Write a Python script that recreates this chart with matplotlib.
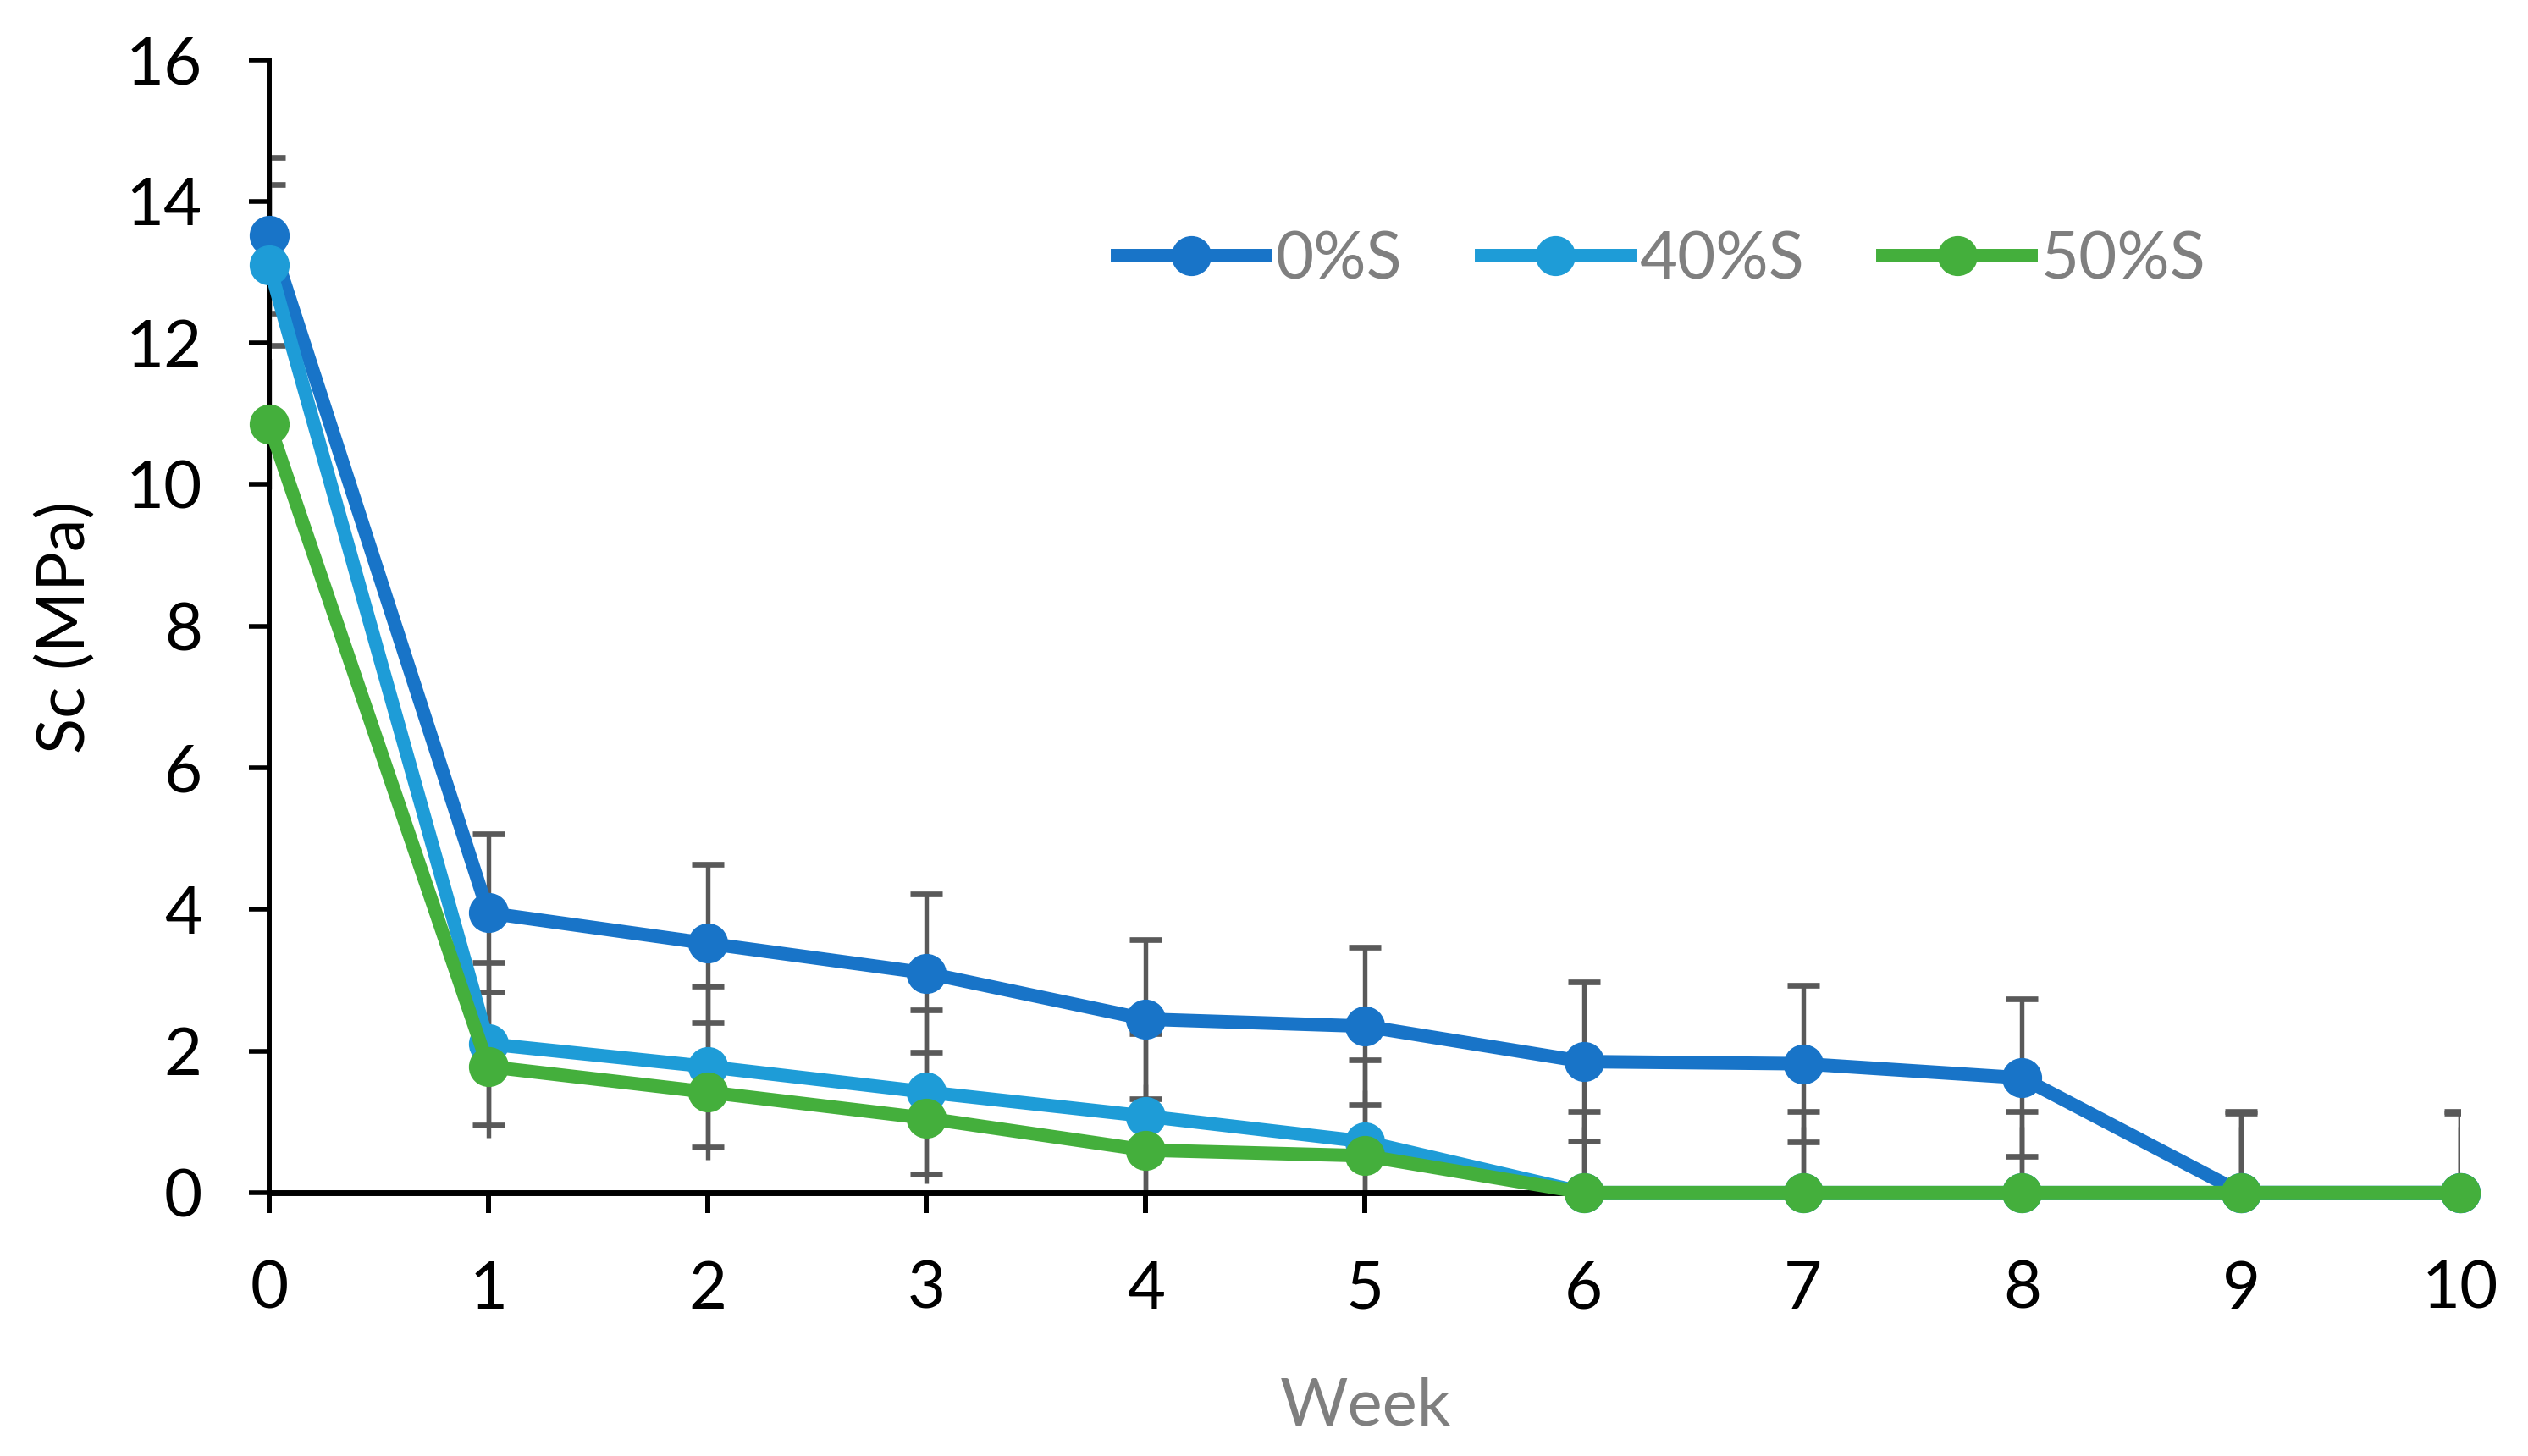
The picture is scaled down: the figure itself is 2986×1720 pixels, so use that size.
import matplotlib
matplotlib.use("Agg")
import matplotlib.pyplot as plt
import numpy as np

plt.rcParams["font.family"] = ["Lato", "DejaVu Sans"]

weeks = [0, 1, 2, 3, 4, 5, 6, 7, 8, 9, 10]
series_names = ["0%S", "40%S", "50%S"]

s0 = [13.52, 3.95, 3.52, 3.10, 2.45, 2.35, 1.85, 1.82, 1.62, 0.0, 0.0]
s40 = [13.10, 2.10, 1.78, 1.42, 1.08, 0.72, 0.0, 0.0, 0.0, 0.0, 0.0]
s50 = [10.85, 1.78, 1.42, 1.05, 0.60, 0.52, 0.0, 0.0, 0.0, 0.0, 0.0]

e0 = [1.10, 1.12, 1.12, 1.12, 1.12, 1.11, 1.12, 1.11, 1.11, 1.12, 1.12]
e40 = [1.14, 1.15, 1.14, 1.16, 1.16, 1.16, 1.15, 1.15, 1.15, 1.15, 1.15]
e50 = [0.92, 1.00, 0.96, 0.92, 0.93, 0.93, 0.93, 0.93, 0.93, 0.93, 0.93]

colors = ["#1874C8", "#1E9CD7", "#44AF3C"]
err_color = "#595959"

fig = plt.figure(figsize=(29.86, 17.2), dpi=100)
ax = fig.add_axes([0.1065, 0.1809, 0.8667, 0.7781])

values = [s0, s40, s50]
errors = [e0, e40, e50]
caps = [13.7, 13.7, 0]

# error bars first (clipped to the plot area), lines + markers on top
for vals, errs, cs in zip(values, errors, caps):
    ax.errorbar(weeks, vals, yerr=errs, fmt="none", ecolor=err_color,
                elinewidth=3.9, capsize=cs, capthick=4.8, zorder=2)

for vals, col, name in zip(values, colors, series_names):
    ax.plot(weeks, vals, "-o", color=col, lw=11.5, markersize=33,
            label=name, zorder=3, clip_on=False)

ax.set_xlim(0, 10)
ax.set_ylim(0, 16)
ax.set_xticks(weeks)
ax.set_yticks(np.arange(0, 17, 2))

for side in ["top", "right"]:
    ax.spines[side].set_visible(False)
ax.spines["left"].set_linewidth(4.3)
ax.spines["bottom"].set_linewidth(5)
ax.tick_params(axis="y", direction="out", length=17, width=4, pad=40,
               labelsize=56, colors="black")
ax.tick_params(axis="x", direction="out", length=17.5, width=4.3, pad=40,
               labelsize=56, colors="black")

fig.text(0.54, 0.0215, "Week", ha="center", va="baseline", fontsize=56,
         color="#7F7F7F")
fig.text(0.026, 0.569, "Sc (MPa)", ha="center", va="center", rotation=90,
         fontsize=56, color="black")

ax.legend(loc="center left", bbox_to_anchor=(0.429, 0.821),
          bbox_transform=fig.transFigure, ncol=3, frameon=False,
          fontsize=56, labelcolor="#7F7F7F", handlelength=2.25,
          handletextpad=0.15, columnspacing=1.2, borderpad=0,
          numpoints=1)

fig.savefig("out.png", dpi=100)
